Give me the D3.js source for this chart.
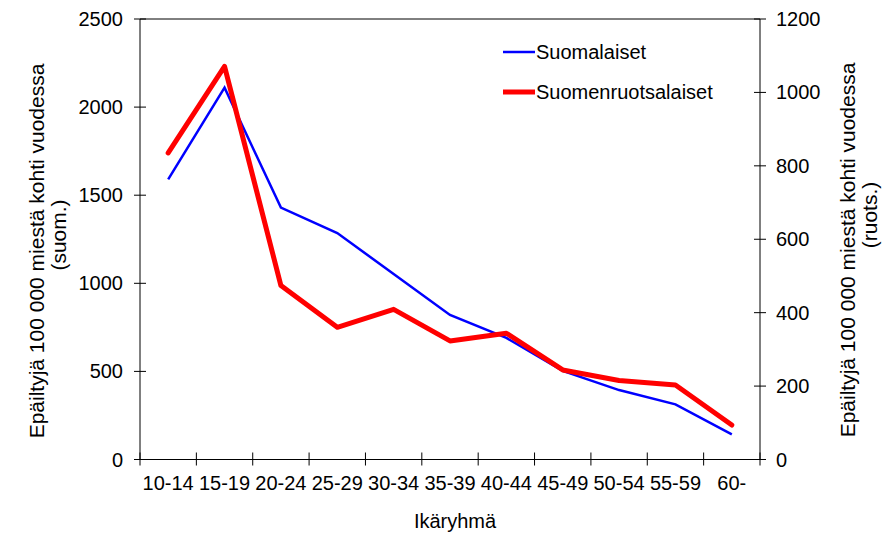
<!DOCTYPE html>
<html><head><meta charset="utf-8">
<script src="https://cdn.jsdelivr.net/npm/d3@7"></script>
<style>
body{margin:0;background:#fff;}
text{font-family:"Liberation Sans",Arial,sans-serif;fill:#000;}
</style></head>
<body><svg id="c" width="883" height="533"></svg>
<script>
const categories = ["10-14","15-19","20-24","25-29","30-34","35-39","40-44","45-49","50-54","55-59","60-"];
const suomalaiset = [1590,2110,1430,1285,1053,820,690,503,394,313,143];
const suomenruotsalaiset = [835,1071,474,360,409,323,344,244,215,203,94];
const leftTicks = [0,500,1000,1500,2000,2500];
const rightTicks = [0,200,400,600,800,1000,1200];

const svg = d3.select("#c");
const L=140,R=760,T=19,B=459.5;
const fs=20;
const x = d3.scaleBand().domain(categories).range([L,R]);
const yL = d3.scaleLinear().domain([0,2500]).range([B,T]);
const yR = d3.scaleLinear().domain([0,1200]).range([B,T]);

// frame
svg.append("line").attr("x1",L).attr("x2",R).attr("y1",T).attr("y2",T).attr("stroke","#000");
svg.append("line").attr("x1",L).attr("x2",L).attr("y1",T).attr("y2",B).attr("stroke","#000");
svg.append("line").attr("x1",R).attr("x2",R).attr("y1",T).attr("y2",B).attr("stroke","#000");
svg.append("line").attr("x1",L).attr("x2",R).attr("y1",B).attr("y2",B).attr("stroke","#000");

// left ticks
leftTicks.forEach(v=>{
  svg.append("line").attr("x1",L-6).attr("x2",L+6).attr("y1",yL(v)).attr("y2",yL(v)).attr("stroke","#000");
  svg.append("text").attr("x",L-17).attr("y",yL(v)).attr("dy","0.35em").attr("text-anchor","end").attr("font-size",fs).text(v);
});
rightTicks.forEach(v=>{
  svg.append("line").attr("x1",R-6).attr("x2",R+6).attr("y1",yR(v)).attr("y2",yR(v)).attr("stroke","#000");
  svg.append("text").attr("x",R+16).attr("y",yR(v)).attr("dy","0.35em").attr("text-anchor","start").attr("font-size",fs).text(v);
});
// x ticks at band edges
const edges = categories.map(c=>x(c)).concat([R]);
edges.forEach(e=>{
  svg.append("line").attr("x1",e).attr("x2",e).attr("y1",B-7).attr("y2",B+6).attr("stroke","#000");
});
categories.forEach(c=>{
  svg.append("text").attr("x",x(c)+x.bandwidth()/2).attr("y",483).attr("dy","0.35em").attr("text-anchor","middle").attr("font-size",fs).text(c);
});
svg.append("text").attr("x",455).attr("y",521).attr("dy","0.35em").attr("text-anchor","middle").attr("font-size",fs).text("Ikäryhmä");

// axis titles
function vtext(cx,cy,t){
  svg.append("text").attr("transform",`translate(${cx},${cy}) rotate(-90)`).attr("dy","0.35em").attr("text-anchor","middle").attr("font-size",21).text(t);
}
vtext(37,251,"Epäiltyjä 100 000 miestä kohti vuodessa");
vtext(59,235,"(suom.)");
vtext(848,250,"Epäiltyjä 100 000 miestä kohti vuodessa");
vtext(870,215,"(ruots.)");

// lines
const cx = c=>x(c)+x.bandwidth()/2;
svg.append("path").datum(suomalaiset).attr("fill","none").attr("stroke","#0000ff").attr("stroke-width",2.5)
  .attr("d",d3.line().x((d,i)=>cx(categories[i])).y(d=>yL(d)));
svg.append("path").datum(suomenruotsalaiset).attr("fill","none").attr("stroke","#ff0000").attr("stroke-width",5).attr("stroke-linejoin","round").attr("stroke-linecap","round")
  .attr("d",d3.line().x((d,i)=>cx(categories[i])).y(d=>yR(d)));

// legend
const leg=[["Suomalaiset","#0000ff",2.5,52],["Suomenruotsalaiset","#ff0000",5,92]];
leg.forEach(([t,c,w,y])=>{
  svg.append("line").attr("x1",503).attr("x2",535).attr("y1",y).attr("y2",y).attr("stroke",c).attr("stroke-width",w);
  svg.append("text").attr("x",536).attr("y",y).attr("dy","0.35em").attr("font-size",fs).text(t);
});
</script></body></html>
